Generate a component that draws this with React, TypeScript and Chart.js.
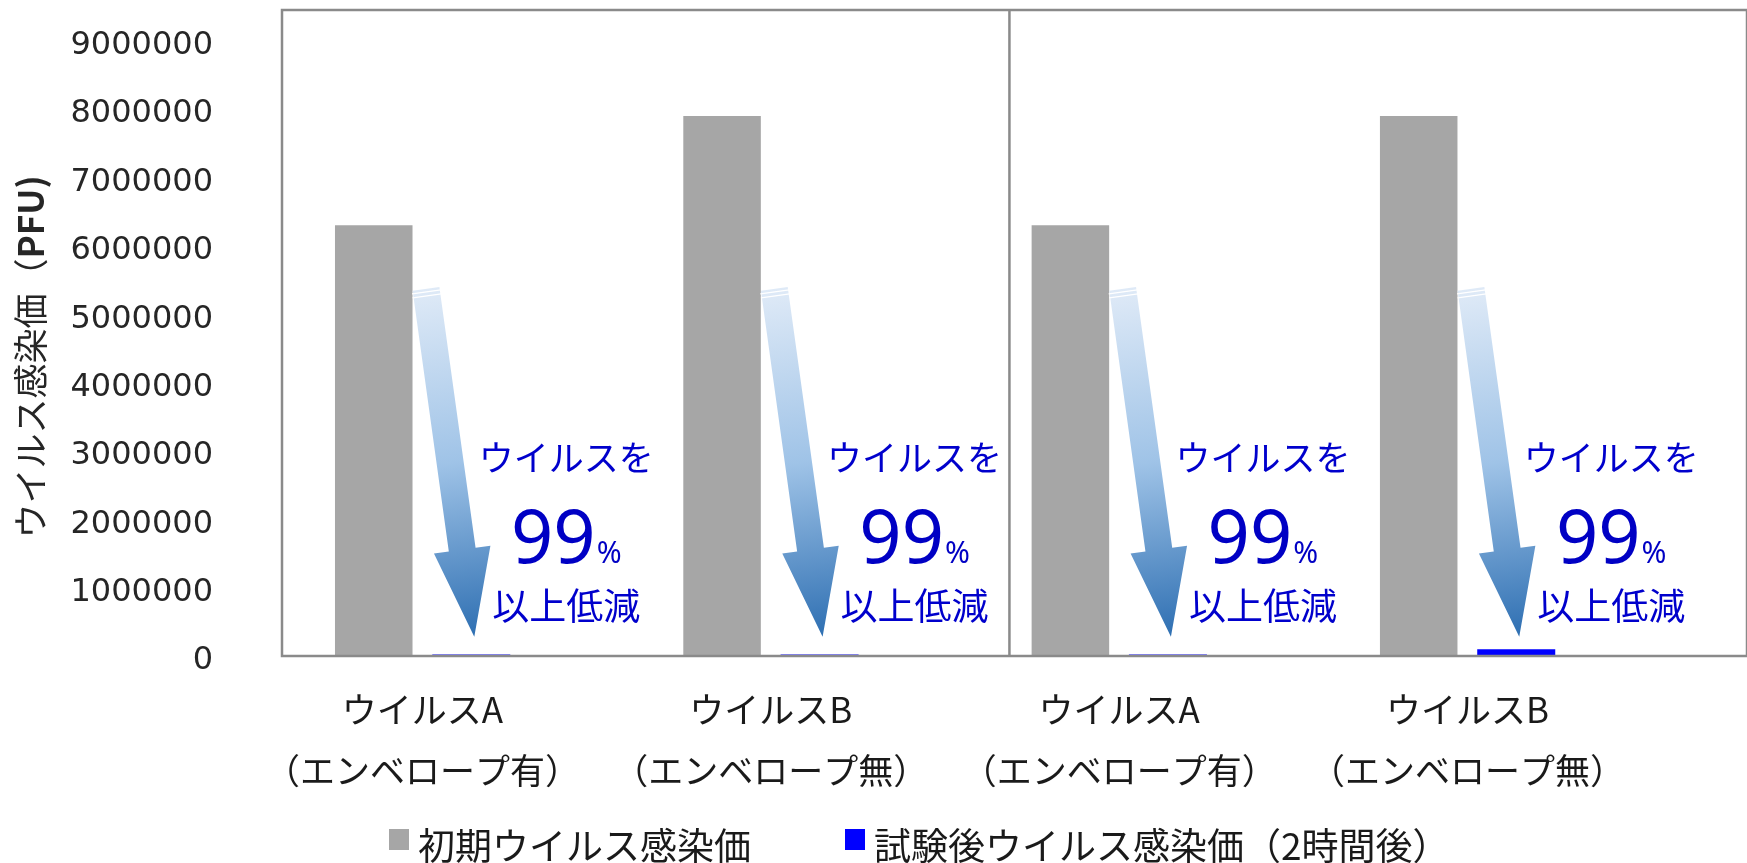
import { useEffect, useRef } from 'react';
import { Chart, registerables } from 'chart.js';

Chart.register(...registerables);

// ---- data ----
const virusNames = ['ウイルスA', 'ウイルスB', 'ウイルスA', 'ウイルスB'];
const envelopeNotes = ['（エンベロープ有）', '（エンベロープ無）', '（エンベロープ有）', '（エンベロープ無）'];
const initialTiter = [6300000, 7900000, 6300000, 7900000];
const afterTiter = [22000, 22000, 22000, 100000];
const yTicks = [0, 1000000, 2000000, 3000000, 4000000, 5000000, 6000000, 7000000, 8000000, 9000000];
const seriesNames = ['初期ウイルス感染価', '試験後ウイルス感染価（2時間後）'];
const seriesColors = ['#a6a6a6', '#0000ff'];
const yTitleMain = 'ウイルス感染価（';
const yTitleUnit = 'PFU)';
const noteLine1 = 'ウイルスを';
const notePercent = '99';
const notePercentSign = '%';
const noteLine3 = '以上低減';
const arrowFromValue = 5370000;
const arrowToValue = 280000;
const noteLine1Value = 2900000;
const notePercentBaselineValue = 1360000;
const noteLine3Value = 730000;
const yMax = 9450000;
const xMin = -0.4034;
const xMax = 3.8025;
const dividerAt = 1.685;

const FONT_CJK = '"Noto Sans CJK JP", "Noto Sans", sans-serif';

function drawArrow(ctx: CanvasRenderingContext2D, sx: number, sy: number, tx: number, ty: number) {
  const dx = tx - sx;
  const dy = ty - sy;
  const len = Math.hypot(dx, dy);
  const ux = dx / len;
  const uy = dy / len;
  const nx = uy;
  const ny = -ux;
  const headLen = 88;
  const shaftHalf = 13.5;
  const headHalf = 28.5;
  const hx = tx - ux * headLen;
  const hy = ty - uy * headLen;
  const grad = ctx.createLinearGradient(sx, sy, tx, ty);
  grad.addColorStop(0, '#dfeaf7');
  grad.addColorStop(0.5, '#9fc3e7');
  grad.addColorStop(1, '#2e6fb2');
  ctx.beginPath();
  ctx.moveTo(sx + nx * shaftHalf, sy + ny * shaftHalf);
  ctx.lineTo(hx + nx * shaftHalf, hy + ny * shaftHalf);
  ctx.lineTo(hx + nx * headHalf, hy + ny * headHalf);
  ctx.lineTo(tx, ty);
  ctx.lineTo(hx - nx * headHalf, hy - ny * headHalf);
  ctx.lineTo(hx - nx * shaftHalf, hy - ny * shaftHalf);
  ctx.lineTo(sx - nx * shaftHalf, sy - ny * shaftHalf);
  ctx.closePath();
  ctx.fillStyle = grad;
  ctx.fill();
  // ribbon-like white cuts near the top
  ctx.strokeStyle = '#ffffff';
  ctx.lineWidth = 1.3;
  for (const d of [3, 7]) {
    const cx = sx + ux * d;
    const cy = sy + uy * d;
    ctx.beginPath();
    ctx.moveTo(cx + nx * (shaftHalf + 1), cy + ny * (shaftHalf + 1));
    ctx.lineTo(cx - nx * (shaftHalf + 1), cy - ny * (shaftHalf + 1));
    ctx.stroke();
  }
}

const overlayPlugin = {
  id: 'overlay',
  afterDatasetsDraw(chart: any) {
    const { ctx, chartArea: a } = chart;
    const x = chart.scales.x;
    const y = chart.scales.y;
    ctx.save();
    // frame + divider
    ctx.strokeStyle = '#8a8a8a';
    ctx.lineWidth = 2.5;
    ctx.strokeRect(a.left, a.top, a.right - a.left, a.bottom - a.top);
    const divX = x.getPixelForValue(dividerAt);
    ctx.beginPath();
    ctx.moveTo(divX, a.top);
    ctx.lineTo(divX, a.bottom);
    ctx.stroke();

    const gray = chart.getDatasetMeta(0).data;
    const blue = chart.getDatasetMeta(1).data;
    for (let i = 0; i < gray.length; i++) {
      const g: any = gray[i];
      const b: any = blue[i];
      const sx = g.x + g.width / 2 + 13.5;
      const sy = y.getPixelForValue(arrowFromValue);
      const tx = b.x + 3;
      const ty = y.getPixelForValue(arrowToValue);
      drawArrow(ctx, sx, sy, tx, ty);

      const cx = b.x + 95;
      ctx.fillStyle = '#0000cc';
      ctx.textAlign = 'center';
      ctx.textBaseline = 'middle';
      ctx.font = `35px ${FONT_CJK}`;
      ctx.fillText(noteLine1, cx, y.getPixelForValue(noteLine1Value));
      ctx.font = `37px ${FONT_CJK}`;
      ctx.fillText(noteLine3, cx, y.getPixelForValue(noteLine3Value));

      ctx.textBaseline = 'alphabetic';
      ctx.textAlign = 'left';
      ctx.font = '74px "Noto Sans", sans-serif';
      const w1 = ctx.measureText(notePercent).width;
      ctx.font = '30px "Noto Sans", sans-serif';
      const w2 = ctx.measureText(notePercentSign).width;
      const total = w1 + 1 + w2;
      const startX = cx - total / 2;
      const base = y.getPixelForValue(notePercentBaselineValue);
      ctx.fillStyle = '#0000c4';
      ctx.font = '74px "Noto Sans", sans-serif';
      ctx.fillText(notePercent, startX, base);
      ctx.font = '30px "Noto Sans", sans-serif';
      ctx.fillText(notePercentSign, startX + w1 + 1, base);
    }
    ctx.restore();
  },
  afterDraw(chart: any) {
    const { ctx } = chart;
    ctx.save();
    // y axis title
    ctx.translate(31, 357);
    ctx.rotate(-Math.PI / 2);
    ctx.fillStyle = '#262626';
    ctx.textBaseline = 'middle';
    ctx.textAlign = 'left';
    ctx.font = `35px ${FONT_CJK}`;
    const m1 = ctx.measureText(yTitleMain).width;
    ctx.font = `bold 35px ${FONT_CJK}`;
    const m2 = ctx.measureText(yTitleUnit).width;
    const start = -(m1 + m2) / 2;
    ctx.font = `35px ${FONT_CJK}`;
    ctx.fillText(yTitleMain, start, 0);
    ctx.font = `bold 35px ${FONT_CJK}`;
    ctx.fillText(yTitleUnit, start + m1, 0);
    ctx.restore();

    // legend
    ctx.save();
    ctx.font = `37px ${FONT_CJK}`;
    ctx.textBaseline = 'middle';
    ctx.textAlign = 'left';
    let lx = 389;
    const boxTop = 829;
    const textY = 846;
    for (let i = 0; i < seriesNames.length; i++) {
      ctx.fillStyle = seriesColors[i];
      ctx.fillRect(lx, boxTop, 20, 21);
      ctx.fillStyle = '#1a1a1a';
      ctx.fillText(seriesNames[i], lx + 29, textY);
      lx += 29 + ctx.measureText(seriesNames[i]).width + 94;
    }
    ctx.restore();
  },
};

export default function App() {
  const canvasRef = useRef<HTMLCanvasElement>(null);

  useEffect(() => {
    document.body.style.margin = '0';
    const canvas = canvasRef.current;
    if (!canvas) return;
    const chart = new Chart(canvas, {
      type: 'bar',
      data: {
        datasets: [
          {
            label: seriesNames[0],
            data: initialTiter.map((v, i) => ({ x: i, y: v })),
            backgroundColor: seriesColors[0],
            categoryPercentage: 0.56,
            barPercentage: 0.795,
          },
          {
            label: seriesNames[1],
            data: afterTiter.map((v, i) => ({ x: i, y: v })),
            backgroundColor: seriesColors[1],
            categoryPercentage: 0.56,
            barPercentage: 0.8,
          },
        ],
      },
      options: {
        responsive: true,
        maintainAspectRatio: false,
        animation: false,
        devicePixelRatio: 1,
        layout: { padding: { left: 0, top: 10, right: 0, bottom: 62 } },
        plugins: {
          legend: { display: false },
          tooltip: { enabled: false },
        },
        scales: {
          x: {
            type: 'linear',
            min: xMin,
            max: xMax,
            offset: false,
            grid: { display: false, drawTicks: false },
            border: { display: false },
            afterBuildTicks: (scale: any) => {
              scale.ticks = virusNames.map((_, i) => ({ value: i }));
            },
            afterFit: (scale: any) => {
              scale.height = 145;
              scale.paddingLeft = 0;
              scale.paddingRight = 0;
            },
            ticks: {
              autoSkip: false,
              maxRotation: 0,
              minRotation: 0,
              padding: 23.5,
              color: '#1a1a1a',
              font: { family: FONT_CJK, size: 35, lineHeight: '61px' },
              callback: (value: any) => {
                const i = Math.round(Number(value));
                return [virusNames[i], envelopeNotes[i]];
              },
            },
          },
          y: {
            min: 0,
            max: yMax,
            grid: { display: false, drawTicks: false },
            border: { display: false },
            afterBuildTicks: (scale: any) => {
              scale.ticks = yTicks.map((v) => ({ value: v }));
            },
            afterFit: (scale: any) => {
              scale.width = 282;
              scale.paddingTop = 0;
              scale.paddingBottom = 0;
            },
            ticks: {
              padding: 69,
              color: '#262626',
              font: { family: '"DejaVu Sans", sans-serif', size: 32, lineHeight: '10px' },
              callback: (value: any) => ['', String(value)],
            },
          },
        },
      },
      plugins: [overlayPlugin],
    } as any);
    return () => chart.destroy();
  }, []);

  return (
    <div style={{ width: 1747, height: 863, position: 'relative' }}>
      <canvas ref={canvasRef} />
    </div>
  );
}
